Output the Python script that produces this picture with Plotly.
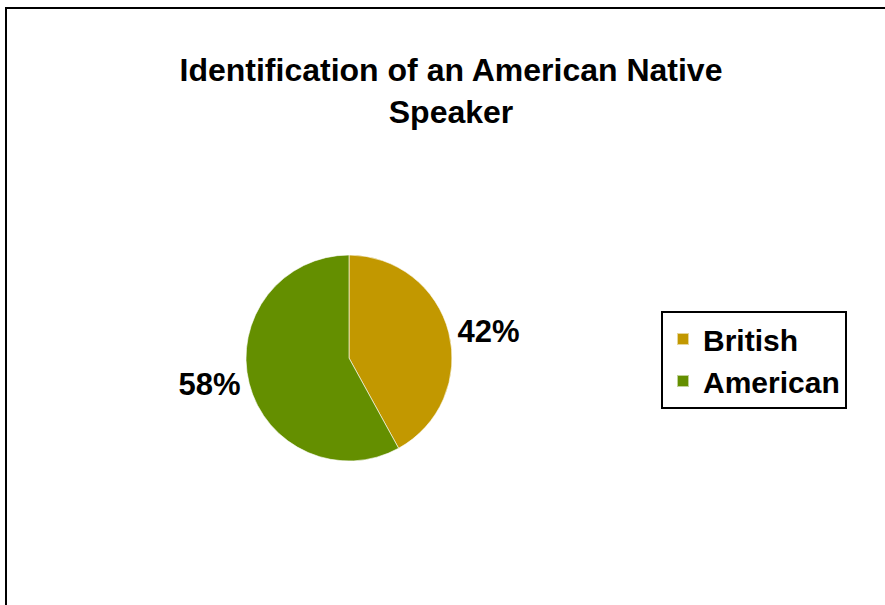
import plotly.graph_objects as go

labels = ["British", "American"]
values = [42, 58]
colors = ["#C29800", "#648F00"]

W, H = 885, 605
cx, cy, r = 349, 358, 103
FONT = "Arial, Liberation Sans"

fig = go.Figure(go.Pie(
    labels=labels, values=values, sort=False, direction="clockwise", rotation=0,
    marker=dict(colors=colors, line=dict(color="rgba(255,255,255,0.6)", width=1)),
    texttemplate="<b>%{percent:.0%}</b>", textposition="outside",
    textfont=dict(family=FONT, size=31, color="black"),
    domain=dict(x=[(cx - r) / W, (cx + r) / W], y=[(H - cy - r) / H, (H - cy + r) / H]),
))

fig.update_layout(
    width=W, height=H, margin=dict(l=0, r=0, t=0, b=0),
    paper_bgcolor="white", plot_bgcolor="white",
    font=dict(family=FONT, color="black"),
    title=dict(text="<b>Identification of an American Native<br>Speaker</b>",
               x=451 / W, xanchor="center", y=1 - 81 / H, yanchor="top",
               font=dict(size=32, color="black")),
    legend=dict(x=661 / W, y=1 - 311 / H, xanchor="left", yanchor="top",
                bordercolor="black", borderwidth=2, bgcolor="white",
                font=dict(size=30, color="black", weight="bold"),
                itemsizing="constant"),
    shapes=[dict(type="rect", xref="paper", yref="paper",
                 x0=6 / W, x1=1.02, y0=-0.02, y1=1 - 8 / H,
                 line=dict(color="black", width=2))],
)

fig.write_html("out.html")
